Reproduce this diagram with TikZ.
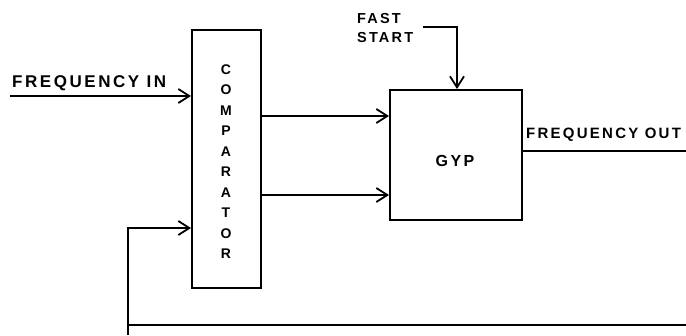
\documentclass[tikz,border=0pt]{standalone}
\usepackage{fontspec}
\setmainfont{Liberation Sans}[LetterSpace=15]
\usetikzlibrary{arrows.meta}
\begin{document}
\begin{tikzpicture}[x=1pt,y=-1pt,
  blk/.style={draw,line width=2pt,inner sep=0pt},
  lbl/.style={font=\fontsize{15}{17}\selectfont\bfseries,inner sep=0pt},
  wire/.style={line width=1.8pt},
  arr/.style={wire,-{Straight Barb[length=11pt,width=14pt,line width=1.8pt]}}]
\useasboundingbox (0,0) rectangle (686,335);
% blocks
\node[blk,minimum width=69pt,minimum height=258pt] (comp) at (226.5,159) {};
\node[lbl,align=center,font=\fontsize{14}{20.5}\selectfont\bfseries] (comptext) at (226,161.5)
  {C\\O\\M\\P\\A\\R\\A\\T\\O\\R};
\node[blk,minimum width=132pt,minimum height=130pt] (gyp) at (456,155) {};
\node[lbl,font=\fontsize{16}{18}\selectfont\bfseries] (gyptext) at (455,161) {GYP};
% labels
\node[lbl,anchor=south west,font=\fontsize{17}{19}\selectfont\bfseries] (fintext) at (12,91) {FREQUENCY IN};
\node[lbl,anchor=south west] (fouttext) at (526,142) {FREQUENCY OUT};
\node[lbl,anchor=north west,align=left,font=\fontsize{14.5}{19}\selectfont\bfseries] (fstext) at (357,13) {FAST\\START};
% coordinates
\coordinate (fin) at (10,96);
\coordinate (fout) at (686,151);
\coordinate (o1) at (0,116);
\coordinate (o2) at (0,195);
\coordinate (fbbot) at (128,335);
\coordinate (fbcorner) at (128,228);
\coordinate (retl) at (128,325);
\coordinate (retr) at (686,325);
\coordinate (fsstart) at (423,27);
\coordinate (fscorner) at (457,27);
% connectors
\draw[arr] (fin) -- (comp.west |- fin);
\draw[arr] (comp.east |- o1) -- (gyp.west |- o1);
\draw[arr] (comp.east |- o2) -- (gyp.west |- o2);
\draw[wire] (gyp.east |- fout) -- (fout);
\draw[arr] (fsstart) -- (fscorner) -- (fscorner |- gyp.north);
\draw[arr] (fbbot) -- (fbcorner) -- (comp.west |- fbcorner);
\draw[wire] (retl) -- (retr);
\end{tikzpicture}
\end{document}
